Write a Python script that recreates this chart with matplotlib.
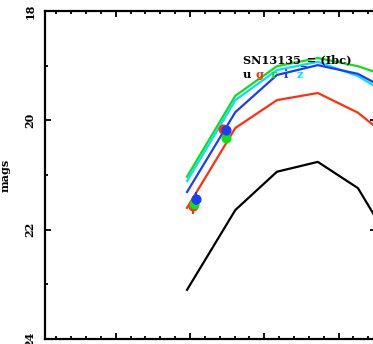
import matplotlib
matplotlib.use("Agg")
import matplotlib.pyplot as plt
from matplotlib.ticker import MultipleLocator

# model light-curve epochs (days, arbitrary zero)
model_days = [-0.4, 6.1, 11.7, 17.2, 22.6, 28.0]
model_u = [23.10, 21.64, 20.94, 20.76, 21.24, 22.46]
model_g = [21.60, 20.14, 19.63, 19.50, 19.86, 20.45]
model_r = [21.03, 19.55, 19.01, 18.86, 19.01, 19.26]
model_i = [21.31, 19.85, 19.17, 18.99, 19.15, 19.54]
model_z = [21.11, 19.63, 19.08, 18.93, 19.19, 19.63]

# observed photometry
obs_g_days = [0.4, 4.5]
obs_g_mag = [21.56, 20.16]
obs_g_err = [0.15, 0.05]
obs_r_days = [0.6, 4.8]
obs_r_mag = [21.53, 20.33]
obs_r_err = [0.06, 0.05]
obs_i_days = [0.8, 4.8]
obs_i_mag = [21.43, 20.18]
obs_i_err = [0.11, 0.05]

title_text = "SN13135_= (Ibc)"
band_labels = ["u", "g", "r", "i", "z"]

C_U = "black"
C_G = "#ff3010"
C_R = "#10e010"
C_I = "#1a3cff"
C_Z = "#00e0ff"
band_colors = [C_U, C_G, C_R, C_I, C_Z]

FONT = "DejaVu Serif"

fig = plt.figure(figsize=(3.73, 3.44), dpi=100)
ax = fig.add_axes([45 / 373, 5 / 344, 331 / 373, 328 / 344])

lw = 1.6
ax.plot(model_days, model_u, color=C_U, lw=lw)
ax.plot(model_days, model_g, color=C_G, lw=lw)
ax.plot(model_days, model_r, color=C_R, lw=lw)
ax.plot(model_days, model_z, color=C_Z, lw=lw)
ax.plot(model_days, model_i, color=C_I, lw=lw)

ms = 6.3
ax.errorbar(obs_g_days, obs_g_mag, yerr=obs_g_err, fmt="o", color=C_G, ms=ms,
            elinewidth=1.5, capsize=0, zorder=5)
ax.errorbar(obs_r_days, obs_r_mag, yerr=obs_r_err, fmt="o", color=C_R, ms=ms,
            elinewidth=1.5, capsize=0, zorder=6)
ax.errorbar(obs_i_days, obs_i_mag, yerr=obs_i_err, fmt="o", color=C_I, ms=ms,
            elinewidth=1.5, capsize=0, zorder=7)

ax.set_xlim(-19.52, 25.03)
ax.set_ylim(24, 18)

ax.xaxis.set_major_locator(MultipleLocator(10))
ax.xaxis.set_minor_locator(MultipleLocator(2))
ax.yaxis.set_major_locator(MultipleLocator(2))
ax.yaxis.set_minor_locator(MultipleLocator(1))

ax.tick_params(which="both", direction="in", top=True, right=True,
               width=1.3, labelbottom=False)
ax.tick_params(which="major", length=4.5)
ax.tick_params(which="minor", length=2.3)
ax.tick_params(axis="y", pad=7)
for lab in ax.get_yticklabels():
    lab.set_rotation(90)
    lab.set_va("center")
    lab.set_fontfamily(FONT)
    lab.set_fontweight("bold")
    lab.set_fontsize(8)

for s in ax.spines.values():
    s.set_linewidth(1.6)

ax.set_ylabel("mags", fontfamily=FONT, fontweight="bold", fontsize=8, labelpad=10)

fig.text(243 / 373, 1 - 63 / 344, title_text, fontfamily=FONT, fontweight="bold",
         fontsize=8.2, ha="left", va="baseline")
xs = [243, 256, 271, 284, 297]
for x, t, c in zip(xs, band_labels, band_colors):
    fig.text(x / 373, 1 - 78 / 344, t, color=c, fontfamily=FONT, fontweight="bold",
             fontsize=8.2, ha="left", va="baseline")

fig.savefig("out.png", dpi=100)
